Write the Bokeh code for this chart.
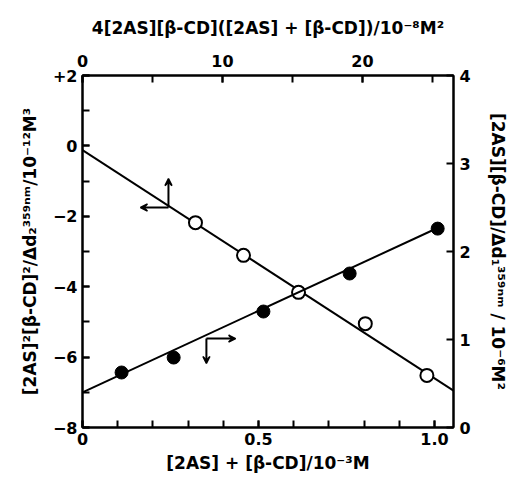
from bokeh.plotting import figure
from bokeh.models import Range1d, LinearAxis, SingleIntervalTicker, Arrow, VeeHead
from bokeh.embed import file_html
from bokeh.resources import INLINE

# open circles: top x axis, left y axis
open_x = [8.07, 11.5, 15.43, 20.2, 24.6]
open_y = [-2.18, -3.11, -4.16, -5.05, -6.52]
open_line_x = [0.0, 26.5]
open_line_y = [-0.12, -6.95]

# filled circles: bottom x axis, right y axis
fill_x = [0.111, 0.259, 0.514, 0.759, 1.009]
fill_y = [0.625, 0.795, 1.318, 1.75, 2.26]
fill_line_x = [0.0, 1.01]
fill_line_y = [0.40, 2.27]

FONT = "DejaVu Sans"

p = figure(width=515, height=482, output_backend="svg", toolbar_location=None,
           x_range=Range1d(0, 1.054), y_range=Range1d(-8, 2),
           min_border_left=82, min_border_right=62, min_border_top=75, min_border_bottom=55,
           x_axis_location=None, y_axis_location=None)
p.extra_x_ranges = {"top": Range1d(0, 26.5)}
p.extra_y_ranges = {"right": Range1d(0, 4)}
p.xgrid.visible = False
p.ygrid.visible = False
p.outline_line_color = "black"
p.outline_line_width = 2

def style(ax, major, minor_n, label, tick_standoff, label_standoff):
    ax.ticker = SingleIntervalTicker(interval=major, num_minor_ticks=minor_n)
    ax.axis_label = label
    ax.axis_line_width = 2
    ax.axis_line_color = "black"
    ax.major_tick_in = 7
    ax.major_tick_out = 0
    ax.minor_tick_in = 7 if minor_n else 0
    ax.minor_tick_out = 0
    ax.major_tick_line_width = 2
    ax.minor_tick_line_width = 2
    ax.major_label_text_font = FONT
    ax.major_label_text_font_style = "bold"
    ax.major_label_text_font_size = "16px"
    ax.major_label_text_color = "black"
    ax.axis_label_text_font = FONT
    ax.axis_label_text_font_style = "bold"
    ax.axis_label_text_font_size = "17px"
    ax.axis_label_text_color = "black"
    ax.major_label_standoff = tick_standoff
    ax.axis_label_standoff = label_standoff

bottom = LinearAxis()
style(bottom, 0.5, 5, "[2AS] + [β-CD]/10⁻³M", 5, 5)
bottom.major_label_overrides = {0: "0", 0.5: "0.5", 1: "1.0"}
p.add_layout(bottom, "below")

top = LinearAxis(x_range_name="top")
style(top, 10, 2, "4[2AS][β-CD]([2AS] + [β-CD])/10⁻⁸M²", 9, 14)
p.add_layout(top, "above")

left = LinearAxis()
style(left, 2, 2, "[2AS]²[β-CD]²/Δd₂³⁵⁹ⁿᵐ/10⁻¹²M³", 5, 10)
left.major_label_overrides = {2: "+2"}
p.add_layout(left, "left")

right = LinearAxis(y_range_name="right")
style(right, 1, 0, "[2AS][β-CD]/Δd₁³⁵⁹ⁿᵐ / 10⁻⁶M²", 6, 14)
p.add_layout(right, "right")

p.line(open_line_x, open_line_y, x_range_name="top", line_color="black", line_width=2)
p.scatter(open_x, open_y, x_range_name="top", size=13, fill_color="white",
          line_color="black", line_width=2)

p.line(fill_line_x, fill_line_y, y_range_name="right", line_color="black", line_width=2)
p.scatter(fill_x, fill_y, y_range_name="right", size=13, fill_color="black",
          line_color="black", line_width=1)

def arrow(x0, y0, x1, y1, **kw):
    p.add_layout(Arrow(x_start=x0, y_start=y0, x_end=x1, y_end=y1, line_width=2,
                       line_color="black",
                       end=VeeHead(size=7, line_color="black", fill_color="black", line_width=1.5),
                       **kw))

# arrows for open circles (top / left axes)
arrow(6.14, -1.75, 6.14, -0.93, x_range_name="top")
arrow(6.14, -1.75, 4.14, -1.75, x_range_name="top")
# arrows for filled circles (bottom / right axes)
arrow(0.352, 1.01, 0.352, 0.727, y_range_name="right")
arrow(0.352, 1.01, 0.435, 1.01, y_range_name="right")

open("out.html", "w").write(file_html(p, INLINE))
